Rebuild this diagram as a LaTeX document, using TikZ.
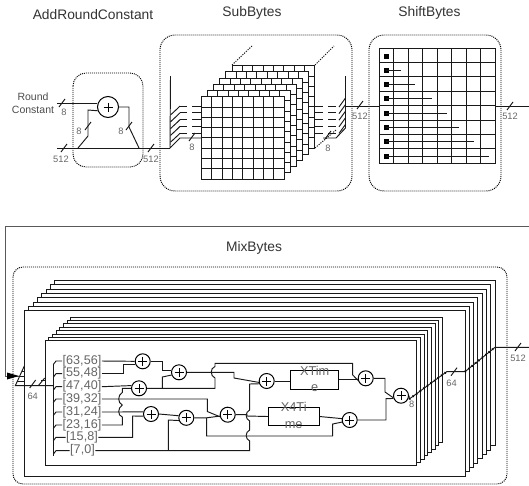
\documentclass[tikz,border=0pt]{standalone}
\usepackage{fontspec}
\setmainfont{Liberation Sans}
\newcommand\gridlayer[4]{%
  \draw[wire,fill=white] (#1,#2) rectangle ({#1+8*#3},{#2+8*#4});
  \foreach \i in {1,...,7} {
    \draw[wire] ({#1+\i*#3},#2) -- ++(0,{8*#4});
    \draw[wire] (#1,{#2+\i*#4}) -- ++({8*#3},0);
  }}
\newcommand\wiretick[2]{\draw[wire] ({#1-3},{#2+4}) -- ({#1+3},{#2-4});}
\tikzset{
  wire/.style={draw=black!90,line width=0.95pt},
  dotbox/.style={draw=black,line width=0.95pt,dash pattern=on 1pt off 1pt,rounded corners=13pt},
  xorgate/.style={circle,draw=black,fill=white,line width=1pt,minimum size=15pt,inner sep=0pt,
    path picture={\draw[line width=0.9pt,black] (path picture bounding box.center) ++(-4.5pt,0) -- ++(9pt,0)
      (path picture bounding box.center) ++(0,-4.5pt) -- ++(0,9pt);}},
  title/.style={text=black!80,font=\fontsize{13.8}{15}\selectfont,inner sep=0pt},
  small/.style={text=black!60,font=\fontsize{9.3}{10}\selectfont,inner sep=0pt},
  rc/.style={text=black!70,font=\fontsize{10.5}{12}\selectfont,inner sep=0pt},
  bits/.style={text=black!60,font=\fontsize{12.6}{13}\selectfont,inner sep=0.5pt},
  fnbox/.style={draw=black,line width=1pt,fill=white,minimum height=18.6pt,inner sep=0pt},
  fntext/.style={text=black!60,font=\fontsize{12.8}{14}\selectfont,inner sep=0pt},
  blackdot/.style={fill=black,draw=none,minimum size=5pt,inner sep=0pt},
  hatchline/.style={draw=black,line width=2.2pt,dash pattern=on 0.9pt off 3.5pt},
}
\begin{document}
\begin{tikzpicture}[x=1pt,y=-1pt]
\useasboundingbox (0,0) rectangle (529,485);
% titles
\node[title] (tA) at (93,15) {AddRoundConstant};
\node[title] (tS) at (252,13) {SubBytes};
\node[title] (tH) at (429.5,13) {ShiftBytes};
\node[title] (tM) at (254,248) {MixBytes};
% AddRoundConstant
\draw[dotbox] (73,73) rectangle (143,167);
\node[rc] (rc1) at (33,97) {Round};
\node[rc] (rc2) at (33,110) {Constant};
\node[xorgate,minimum size=21pt] (R) at (108,107) {};
\coordinate (rcin) at (57,103);
\coordinate (mainin) at (57,148);
\coordinate (fork) at (170,148);
\draw[wire] (rcin) -- (R.west |- rcin) ;
\draw[wire] (mainin) -- (fork);
\draw[wire] (78,148) -- (88,136) -- (88,110) -- (R.200);
\draw[wire] (R.east) -| (129,127) -- (139,148);
\wiretick{62}{103}\wiretick{64}{148}\wiretick{88}{126}\wiretick{129}{126}\wiretick{151}{148}
\node[small] (n8a) at (64,112) {8};
\node[small] (n8b) at (79,131) {8};
\node[small] (n8c) at (121,131) {8};
\node[small] (n512a) at (61,159) {512};
\node[small] (n512b) at (151,159) {512};
% SubBytes
\draw[dotbox,rounded corners=15pt] (160,35) rectangle (352,191);
\draw[wire] (170.5,76) -- (fork) -- (180,138) -- (201,138);
\foreach \i in {0,...,4} {
  \pgfmathsetmacro\yy{106+6.8*\i}
  \draw[wire] (170.5,\yy+9) -- (177.5,\yy+2.5) .. controls (178.5,\yy+1) .. (180,\yy);
  \draw[wire] (180,\yy) -- (187,\yy) (192,\yy) -- (201,\yy);
  \draw[wire] (315,\yy) -- (323,\yy) (328,\yy) -- (336,\yy);
  \pgfmathsetmacro\zz{98+6.6*\i}
  \draw[wire] (339,\zz+9) -- (345.5,\zz);
}
\draw[wire,dash pattern=on 1.2pt off 1.2pt] (232,65) -- (252,46) (315,65) -- (334,46) (315,148) -- (336,130);
\foreach \k in {5,4,...,0} {
  \pgfmathsetmacro\lx{201.3+6.15*\k}
  \pgfmathsetmacro\ly{96.7-6.2*\k}
  \gridlayer{\lx}{\ly}{10.35}{10.3}
}
\draw[wire] (345.5,76) -- (345.5,128) -- (336,138) -- (323,138);
\wiretick{192}{137}\wiretick{328}{135}
\node[small] (n8d) at (192,147) {8};
\node[small] (n8e) at (328,148) {8};
% ShiftBytes
\draw[dotbox,rounded corners=15pt] (369,35) rectangle (501,191);
\foreach \i in {1,...,7} {
  \draw[wire] ({379+\i*14.5},48) -- ({379+\i*14.5},163);
  \draw[wire] (379,{48+\i*14.4}) -- (495,{48+\i*14.4});
}
\draw[wire] (379,48) rectangle (495,163);
\foreach \r/\e in {0/386,1/401,2/415,3/432,4/447,5/459,6/474,7/489} {
  \node[blackdot] (sq\r) at (386,{56+14.3*\r}) {};
  \draw[wire] (sq\r.center) -- (\e,{56+14.3*\r});
}
\coordinate (outS) at (345.5,106);
\coordinate (inH) at (379,106);
\coordinate (outH) at (495,106);
\coordinate (endH) at (529,106);
\draw[wire] (outS) -- (inH);
\draw[wire] (outH) -- (endH);
\wiretick{360}{105}\wiretick{510}{106}
\node[small] (n512c) at (360,116) {512};
\node[small] (n512d) at (510,116) {512};
% MixBytes frame
\coordinate (fbR) at (529,226);
\coordinate (fbL) at (5,226);
\coordinate (fbD) at (5,376);
\coordinate (fbE) at (19,376);
\draw[draw=black!65,line width=0.9pt] (fbR) -- (fbL) -- (fbD) -- (fbE);
\fill[black] (19,376) -- (7,372.5) -- (7,379.5) -- cycle;
\draw[dotbox,rounded corners=10pt] (13,267) rectangle (507,484);
\foreach \k in {7,6,...,0} {
  \draw[wire,fill=white] ({24.6+4.32*\k},{310.7-4.3*\k}) rectangle ({465+4.3*\k},{476-4.3*\k});
}
\foreach \k in {7,6,...,0} {
  \draw[wire,fill=white] ({45+3.68*\k},{340.7-3.35*\k}) rectangle ({416.7+3.7*\k},{465.7-3.3*\k});
}
% input
\draw[wire] (24.3,366) -- (15.3,385.7) -- (53.3,385.7);
\draw[wire] (38.3,385.7) -- (44.7,378);
\foreach \y in {371.5,376.5,381} { \draw[wire] ({15.3+(385.7-\y)*0.46},\y) -- (25,\y); }
\foreach \y in {380.5} { \draw[wire] (41,\y) -- (45,\y); }
\wiretick{32.7}{384}
\node[small] (n64a) at (32.7,396) {64};
% bit labels
\foreach \nm/\txt/\y/\cx in {a/{[63,56]}/361/82,b/{[55,48]}/373.7/82,c/{[47,40]}/386.7/82,d/{[39,32]}/399/82,e/{[31,24]}/412/82,f/{[23,16]}/425/82,g/{[15,8]}/437.3/82,h/{[7,0]}/450.7/82.5} {
  \node[bits] (L\nm) at (\cx,\y) {\txt};
  \draw[wire] (53.3,\y+3.5) -- (56,\y) -- (L\nm.west);
}
\draw[wire] (53.3,364) -- (53.3,456);
% gates
\node[xorgate] (A) at (142.7,361.3) {};
\node[xorgate] (B) at (179,372.3) {};
\node[xorgate] (C) at (139,388.3) {};
\node[xorgate] (D) at (151,414) {};
\node[xorgate] (E) at (186.3,417.8) {};
\node[xorgate] (F) at (227.7,414.7) {};
\node[xorgate] (H) at (266.7,381) {};
\node[xorgate] (I) at (365.7,378.3) {};
\node[xorgate] (J) at (401,395.7) {};
\node[xorgate] (K) at (349.7,420) {};
\node[fnbox,minimum width=48pt] (XT) at (314.7,380) {};
\node[fnbox,minimum width=50.7pt] (XF) at (293.7,416.5) {};
\node[fntext] (XTa) at (314.7,370.7) {XTim};
\node[fntext] (XTb) at (314.7,388.3) {e};
\node[fntext] (XFa) at (293.7,407) {X4Ti};
\node[fntext] (XFb) at (293.7,425) {me};
% wires
\draw[wire] (La.east) -- (A.west);
\draw[wire] (Lb.east) -- (123,373.7) |- (A.200);
\draw[wire] (A.east) -| (162.7,370) -- (B.west |- 0,370);
\draw[wire] (Lc.east) -- (C.160);
\draw[wire] (C.east) -- (215,388.3) -- (215,378) .. controls (210,376) and (210,368) .. (215,366.5) -- (215,363.3) -- (352.7,363.3) -- (352.7,375) -- (I.195);
\draw[wire] (162.3,388.3) -- (162.3,377) -- (B.200);
\draw[wire] (B.east) -- (234,372.3) -- (234,378) -- (H.190);
\draw[wire] (H.east) -- (XT.west |- H.east);
\draw[wire] (XT.east |- I.190) -- (I.190);
\draw[wire] (I.east) -| (385,392) -- (J.195);
\draw[wire] (Ld.east) -- (207.3,399) -- (207.3,411.5) -- (F.195);
\draw[wire] (Le.east) -- (D.165);
\draw[wire] (Lf.east) -- (122.3,425) -- (122.3,417) .. controls (117.5,415.5) and (117.5,408) .. (122.3,405) .. controls (117.5,403) and (117.5,395) .. (122.3,392.5) -- (122.3,388.3) -- (C.west);
\draw[wire] (Lg.east) -- (132.7,437.3) -- (132.7,416) -- (D.195);
\draw[wire] (Lh.east) -- (249.7,450.7) -- (249.7,441) .. controls (245,439) and (245,432) .. (249.7,430) -- (249.7,421) .. controls (245,419) and (245,412) .. (249.7,410) -- (249.7,384) -- (H.200);
\draw[wire] (168.3,450.7) -- (168.3,420) -- (E.200);
\draw[wire] (D.east) -- (E.165);
\draw[wire] (E.east) -- (206.7,417.8) -- (F.190);
\draw[wire] (206.7,417.8) -- (206.7,436) -- (332.7,436) -- (332.7,424) -- (K.195);
\draw[wire] (F.east) -- (247,414.7) -- (247,416) -- (XF.west);
\draw[wire] (XF.east) -- (K.170);
\draw[wire] (K.east) -| (386,398.7) -- (J.200);
% output
\coordinate (o1) at (409.3,399);
\coordinate (o2) at (446.7,371.7);
\coordinate (o3) at (465,371.7);
\coordinate (o4) at (495,347.3);
\coordinate (o5) at (529,347.3);
\draw[wire] (J.east) -- (o1) -- (o2) -- (o3) -- (o4) -- (o5);
\draw[hatchline] (o1) -- (o2) (o3) -- (o4);
\wiretick{454}{371.7}\wiretick{518}{347}
\node[small] (n8f) at (411.7,404.7) {8};
\node[small] (n64b) at (451.5,383) {64};
\node[small] (n512e) at (518,358) {512};
\end{tikzpicture}
\end{document}
